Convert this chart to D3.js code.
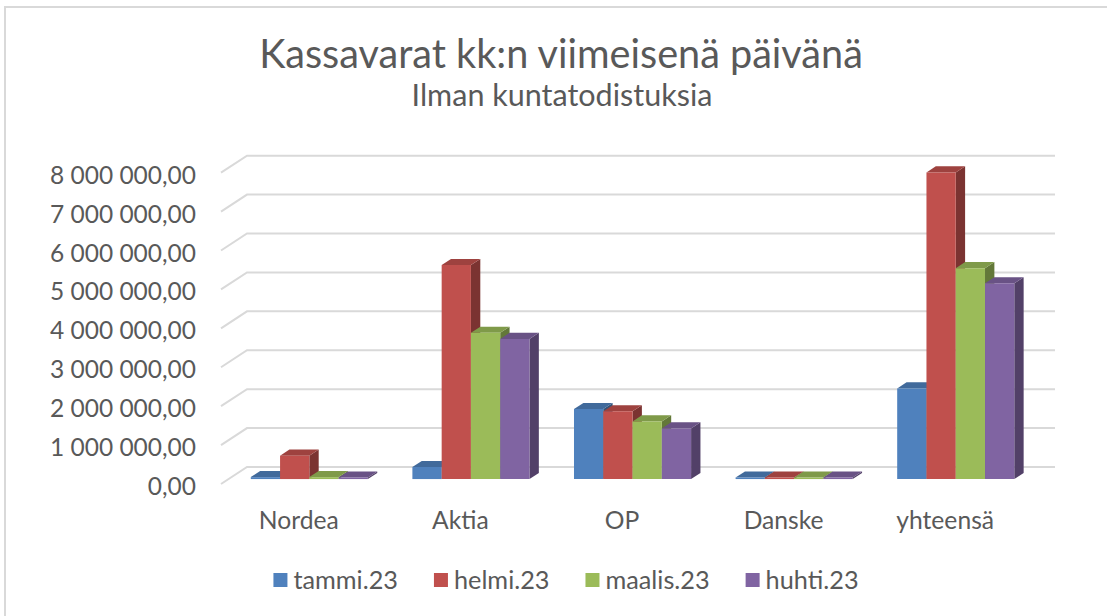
<!DOCTYPE html>
<html>
<head>
<meta charset="utf-8">
<script src="https://cdn.jsdelivr.net/npm/d3@7"></script>
<style>
  html, body { margin: 0; padding: 0; background: #ffffff; }
  svg { display: block; }
  text { font-family: Lato, "Open Sans", sans-serif; fill: #595959; }
</style>
</head>
<body>
<div id="chart"></div>
<script>
// data
var categories = ["Nordea", "Aktia", "OP", "Danske", "yhteensä"];
var seriesNames = ["tammi.23", "helmi.23", "maalis.23", "huhti.23"];
var tammi = [50000, 310000, 1800000, 40000, 2330000];
var helmi = [600000, 5500000, 1740000, 40000, 7880000];
var maalis = [50000, 3760000, 1480000, 40000, 5420000];
var huhti = [40000, 3600000, 1300000, 40000, 5030000];
var yTicks = [0, 1000000, 2000000, 3000000, 4000000, 5000000, 6000000, 7000000, 8000000];
var seriesColors = ["#4F81BD", "#C0504D", "#9BBB59", "#8064A2"];

var titleText = "Kassavarat kk:n viimeisenä päivänä";
var subtitleText = "Ilman kuntatodistuksia";

var width = 1107, height = 616;
var values = [tammi, helmi, maalis, huhti];

var svg = d3.select("#chart").append("svg")
    .attr("width", width)
    .attr("height", height);

// fit a font size so a sample string gets the wanted width
var fitSize = function(sample, targetWidth) {
    var t = svg.append("text").attr("font-size", 100).text(sample);
    var w = t.node().getComputedTextLength();
    t.remove();
    return 100 * targetWidth / w;
};

// chart frame (only top and left edges are in view)
svg.append("path")
    .attr("d", "M5,616 L5,7 L1107,7")
    .attr("fill", "none")
    .attr("stroke", "#d9d9d9")
    .attr("stroke-width", 2);

// plot geometry: front floor plane and depth vector
var plotLeft = 221, plotRight = 1029;
var depthX = 26, depthY = -17;
var barFront = 0.29, barBack = 0.65;

var proj = function(x, y, d) {
    return [x + d * depthX, y + d * depthY];
};

var y = d3.scaleLinear().domain([0, 8000000]).range([484, 172.7]);
var x0 = d3.scaleBand().domain(categories).range([plotLeft, plotRight]);
var x1 = d3.scaleBand().domain(seriesNames).range([0, x0.bandwidth()])
    .paddingInner(0).paddingOuter(0.76);

var locale = d3.formatLocale({decimal: ",", thousands: " ", grouping: [3], currency: ["", ""]});
var fmt = locale.format(",.2f");

// gridlines: left wall diagonals + back wall lines
var grid = svg.append("g").attr("class", "grid");
yTicks.forEach(function(v) {
    var a = proj(plotLeft, y(v), 0);
    var b = proj(plotLeft, y(v), 1);
    var c = proj(plotRight, y(v), 1);
    grid.append("path")
        .attr("d", "M" + a + "L" + b + "L" + c)
        .attr("fill", "none")
        .attr("stroke", "#d9d9d9")
        .attr("stroke-width", 2);
});

// y axis labels
var axisSize = fitSize(fmt(8000000), 146);
svg.append("g").selectAll("text")
    .data(yTicks)
    .enter()
    .append("text")
    .attr("x", 196)
    .attr("y", function(d) { return y(d) + 1.5; })
    .attr("text-anchor", "end")
    .attr("dominant-baseline", "central")
    .attr("font-size", axisSize)
    .text(function(d) { return fmt(d); });

// 3d bars, painted left to right
var poly = function(pts) {
    return "M" + pts.join("L") + "Z";
};
var bars = svg.append("g").attr("class", "bars");
categories.forEach(function(cat, ci) {
    seriesNames.forEach(function(s, si) {
        var v = values[si][ci];
        var xl = x0(cat) + x1(s);
        var xr = xl + x1.bandwidth();
        var yb = y(0);
        var yt = y(v);
        var base = d3.color(seriesColors[si]);
        var g = bars.append("g");
        g.append("path")
            .attr("d", poly([proj(xr, yt, barFront), proj(xr, yt, barBack), proj(xr, yb, barBack), proj(xr, yb, barFront)]))
            .attr("fill", base.darker(1.25).formatHex());
        g.append("path")
            .attr("d", poly([proj(xl, yt, barFront), proj(xr, yt, barFront), proj(xr, yt, barBack), proj(xl, yt, barBack)]))
            .attr("fill", base.darker(0.55).formatHex());
        g.append("path")
            .attr("d", poly([proj(xl, yt, barFront), proj(xr, yt, barFront), proj(xr, yb, barFront), proj(xl, yb, barFront)]))
            .attr("fill", base.formatHex());
    });
});

// category labels
var catSize = fitSize("Nordea", 80);
svg.append("g").selectAll("text")
    .data(categories)
    .enter()
    .append("text")
    .attr("x", function(d) { return x0(d) + x0.bandwidth() / 2 - 3; })
    .attr("y", 519)
    .attr("text-anchor", "middle")
    .attr("dominant-baseline", "central")
    .attr("font-size", catSize)
    .text(function(d) { return d; });

// titles
svg.append("text")
    .attr("x", 561)
    .attr("y", 68)
    .attr("text-anchor", "middle")
    .attr("font-size", fitSize(titleText, 604))
    .text(titleText);
svg.append("text")
    .attr("x", 562)
    .attr("y", 106)
    .attr("text-anchor", "middle")
    .attr("font-size", fitSize(subtitleText, 301))
    .text(subtitleText);

// legend
var legSize = fitSize("huhti.23", 93);
var legend = svg.append("g").attr("class", "legend");
var items = legend.selectAll("g")
    .data(seriesNames)
    .enter()
    .append("g");
items.append("rect")
    .attr("width", 14)
    .attr("height", 14)
    .attr("y", -6)
    .attr("fill", function(d, i) { return seriesColors[i]; });
items.append("text")
    .attr("x", 20)
    .attr("y", 0)
    .attr("dominant-baseline", "central")
    .attr("font-size", legSize)
    .text(function(d) { return d; });
var pos = 0, gap = 36, offsets = [];
items.each(function() {
    offsets.push(pos);
    pos += 20 + d3.select(this).select("text").node().getComputedTextLength() + gap;
});
var legWidth = pos - gap;
var legStart = 566 - legWidth / 2;
items.attr("transform", function(d, i) {
    return "translate(" + (legStart + offsets[i]) + ",579)";
});
</script>
</body>
</html>
